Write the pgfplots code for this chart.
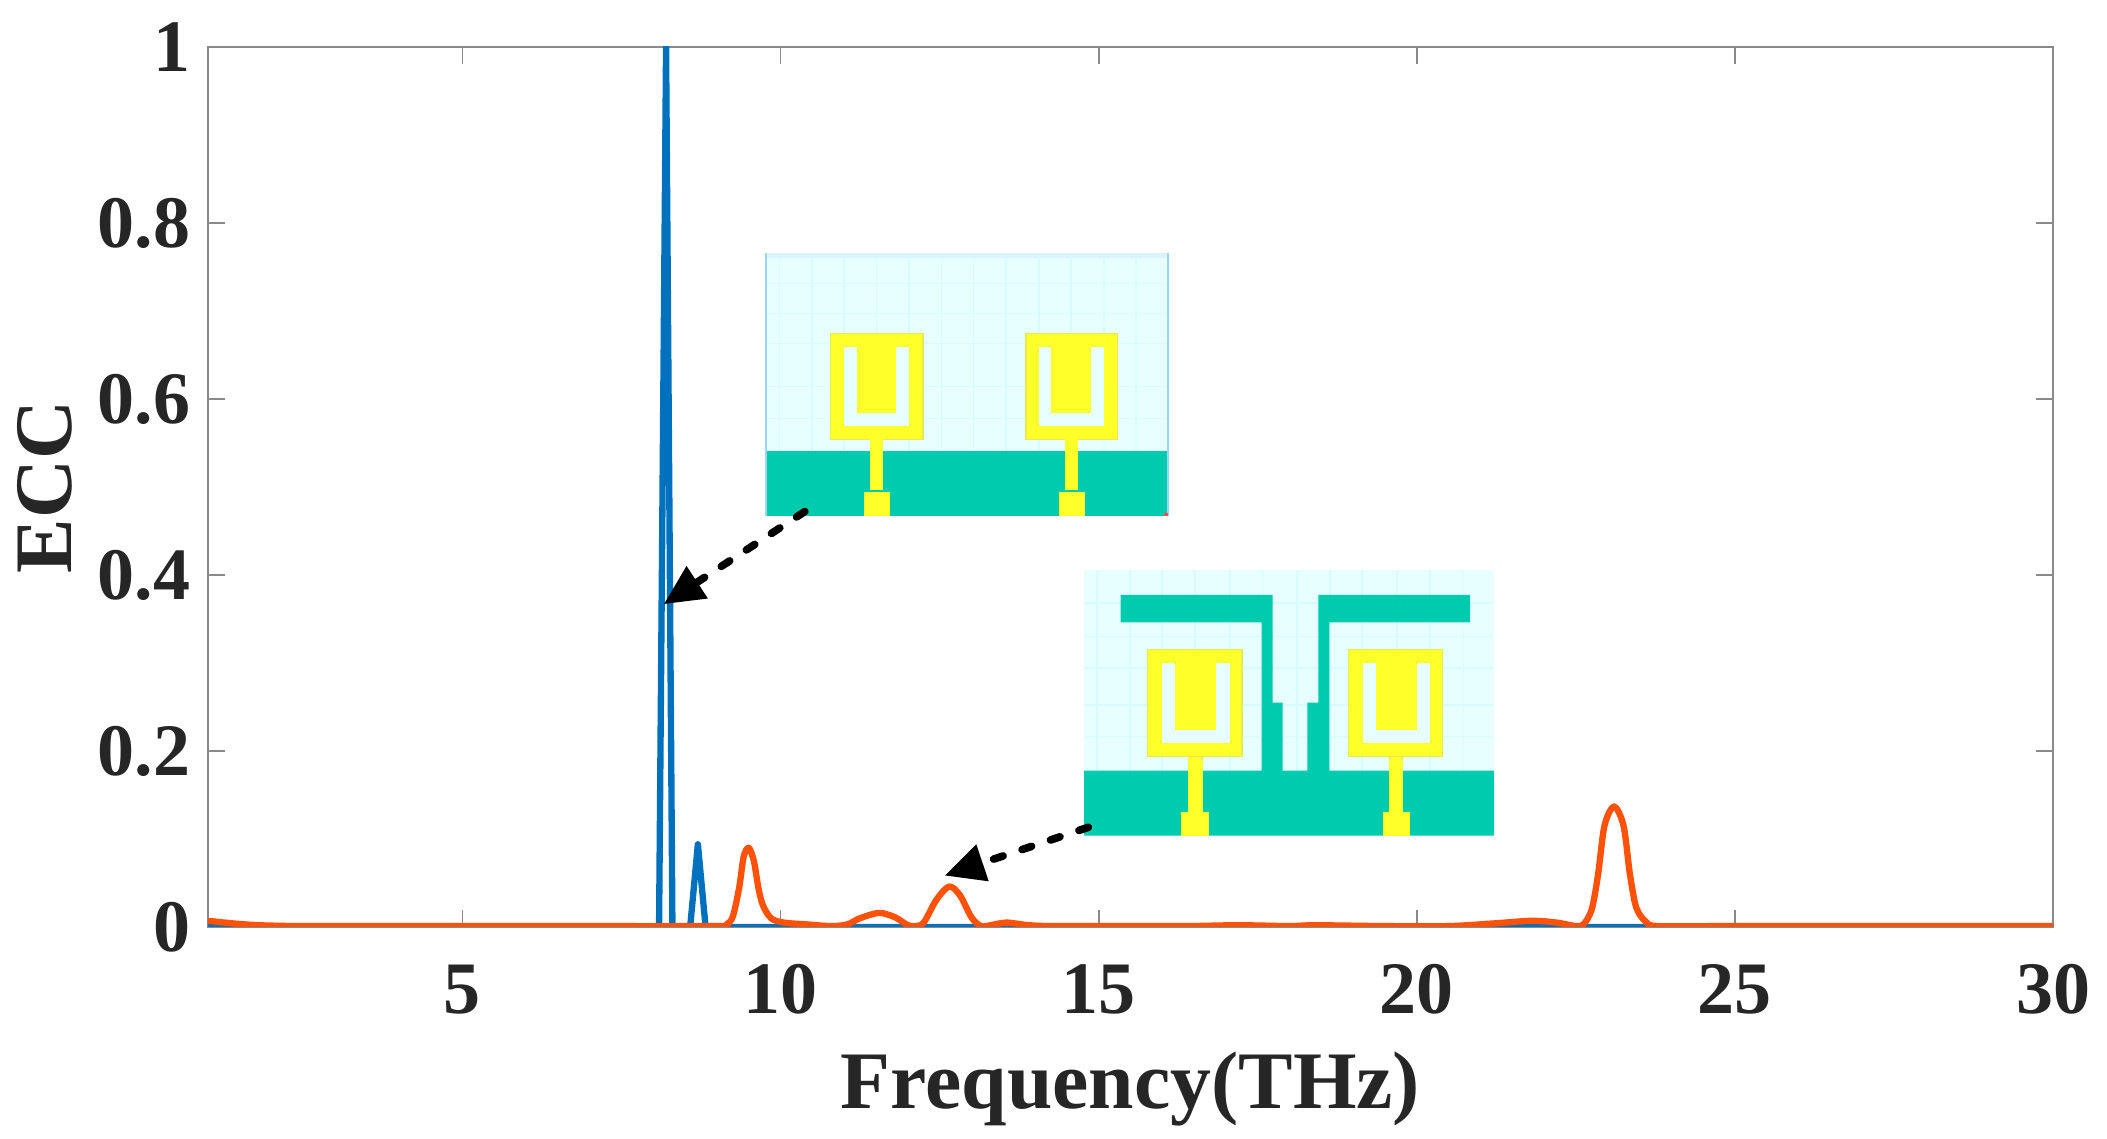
\documentclass[border=0pt]{standalone}
\usepackage{fontspec}
\setmainfont{Liberation Serif}
\usepackage{pgfplots}
\pgfplotsset{compat=1.18}
\usetikzlibrary{arrows.meta}
\definecolor{tealg}{HTML}{00CBAE}
\definecolor{yel}{HTML}{FFFF2A}
\definecolor{yedge}{HTML}{E6EA55}
\definecolor{bgc}{HTML}{E8FFFF}
\definecolor{gridc}{HTML}{D6FCFF}
\definecolor{mblue}{HTML}{0072BD}
\definecolor{morange}{HTML}{FF5208}
\definecolor{axc}{HTML}{8A8A8A}
\definecolor{txt}{HTML}{262626}
\newcommand{\patch}[8]{%
  \fill[yel,draw=yedge,line width=0.4pt] (#1,\py) rectangle (#2,\pq);
  \fill[bgc] (#3,\pa) rectangle (#4,\pb);
  \fill[yel] (#5,\pa) rectangle (#6,\pc);
  \fill[yel] (#7,\pq) rectangle (#8,\pf);
}
\begin{document}
\begin{tikzpicture}
\useasboundingbox (0,0) rectangle (632.1pt,341.7pt);
\begin{axis}[
  at={(62.4pt,63.6pt)}, anchor=south west,
  scale only axis, width=553.5pt, height=264pt,
  xmin=1, xmax=30, ymin=0, ymax=1,
  xtick={5,10,15,20,25,30}, ytick={0,0.2,0.4,0.6,0.8,1},
  tick align=inside, major tick length=5pt,
  axis line style={axc,line width=0.5pt},
  tick style={axc,line width=0.5pt},
  /pgf/number format/assume math mode=true,
  tick label style={font=\fontsize{22.2}{22}\selectfont\bfseries,text=txt},
  xticklabel style={yshift=-7.8pt},
  yticklabel style={xshift=-1.8pt},
  xlabel={Frequency(THz)}, ylabel={ECC},
  label style={font=\fontsize{24.5}{25}\selectfont\bfseries,text=txt},
  xlabel style={at={(axis description cs:0.5,-0.128)},anchor=north},
  ylabel style={at={(axis description cs:-0.067,0.5)},anchor=south},
  clip=true,
  clip mode=individual,
]
\addplot[mblue,line width=1.9pt,line join=round] coordinates {
 (1,0.004)(1.5,0.001)(2,0)(8,0)(8.09,0)(8.2,1)(8.3,0)(8.38,0.001)(8.58,0.001)(8.7,0.094)(8.82,0.001)(8.95,0)(30,0)};
\addplot[morange,line width=1.9pt,line join=round,smooth,tension=0.5] coordinates {
 (1,0.007)(1.4,0.004)(1.8,0.002)(2.4,0.001)(3,0.001)(5,0.001)(7,0.001)(9,0.001)(9.15,0.003)(9.25,0.012)(9.35,0.045)(9.42,0.08)(9.5,0.09)(9.58,0.075)(9.65,0.045)(9.72,0.025)(9.85,0.01)(10.05,0.005)(10.4,0.003)(10.8,0.001)(11.05,0.003)(11.25,0.010)(11.55,0.016)(11.8,0.011)(12,0.002)(12.12,0.001)(12.25,0.005)(12.45,0.031)(12.65,0.046)(12.82,0.036)(13,0.011)(13.15,0.001)(13.3,0.002)(13.55,0.005)(13.9,0.002)(14.3,0.001)(15.5,0.001)(16.4,0.001)(17.2,0.002)(18,0.001)(18.4,0.002)(19.5,0.001)(20.5,0.001)(21.2,0.004)(21.8,0.007)(22.2,0.005)(22.5,0.001)(22.62,0.003)(22.75,0.02)(22.85,0.06)(22.95,0.115)(23.1,0.137)(23.25,0.115)(23.35,0.06)(23.45,0.022)(23.6,0.006)(23.8,0.001)(25,0.001)(30,0.001)};
\end{axis}
% inset 1: coordinates read in a crop with origin at pixel (740,230)
\begin{scope}[shift={(222pt,272.7pt)},x=0.1485pt,y=-0.1pt]
  \fill[bgc] (52,70) rectangle (865,662);
  \fill[blue!30!cyan!15] (52,70) rectangle (865,85);
  \foreach \g in {80,146,210,276,342,407,472,538,604,668,735,800}{\draw[gridc,line width=0.5pt] (\g,85)--(\g,662);}
  \foreach \g in {160,250,340,470,565}{\draw[gridc,line width=0.4pt] (52,\g)--(865,\g);}
  \fill[tealg] (52,662) rectangle (865,857);
  \draw[blue!40!cyan!40,line width=0.5pt] (52,70)--(52,857) (865,70)--(865,857);
  \def\py{310}\def\pq{628}\def\pa{352}\def\pb{588}\def\pc{548}\def\pf{780}
  \patch{183}{370}{210}{342}{236}{316}{262}{288}
  \fill[yel] (250,785) rectangle (303,857);
  \patch{578}{763}{604}{735}{629}{709}{656}{682}
  \fill[yel] (644,785) rectangle (696,857);
  \fill[red!70] (857,848) rectangle (865,857);
\end{scope}
% inset 2: coordinates read in a crop with origin at pixel (1060,550)
\begin{scope}[shift={(318pt,176.7pt)},x=0.1pt,y=-0.1pt]
  \fill[bgc] (72,60) rectangle (1302,662);
  \foreach \g in {110,210,305,405,510,610,710,810,905,1010,1110,1210}{\draw[gridc,line width=0.5pt] (\g,60)--(\g,662);}
  \foreach \g in {160,260,355,465,560}{\draw[gridc,line width=0.5pt] (72,\g)--(1302,\g);}
  \fill[tealg] (182,135)--(638,135)--(638,458)--(668,458)--(668,662)--(742,662)--(742,458)--(775,458)--(775,135)--(1230,135)--(1230,217)--(808,217)--(808,662)--(1302,662)--(1302,857)--(72,857)--(72,662)--(605,662)--(605,217)--(182,217)--cycle;
  \def\py{298}\def\pq{620}\def\pa{338}\def\pb{580}\def\pc{540}\def\pf{785}
  \patch{263}{546}{305}{510}{344}{467}{385}{428}
  \fill[yel] (363,785) rectangle (447,857);
  \patch{865}{1148}{910}{1110}{947}{1072}{988}{1030}
  \fill[yel] (968,785) rectangle (1050,857);
\end{scope}
% arrows
\begin{scope}[x=0.4031pt,y=0.4031pt]
  \draw[black,line width=2.3pt,line cap=round,dash pattern=on 3pt off 6pt,-{Triangle[length=12pt,width=11pt]}] (599,467) -- (494,398);
  \draw[black,line width=2.3pt,line cap=round,dash pattern=on 3pt off 6pt,-{Triangle[length=12pt,width=11pt]}] (810,232) -- (703,196);
\end{scope}
\end{tikzpicture}
\end{document}
